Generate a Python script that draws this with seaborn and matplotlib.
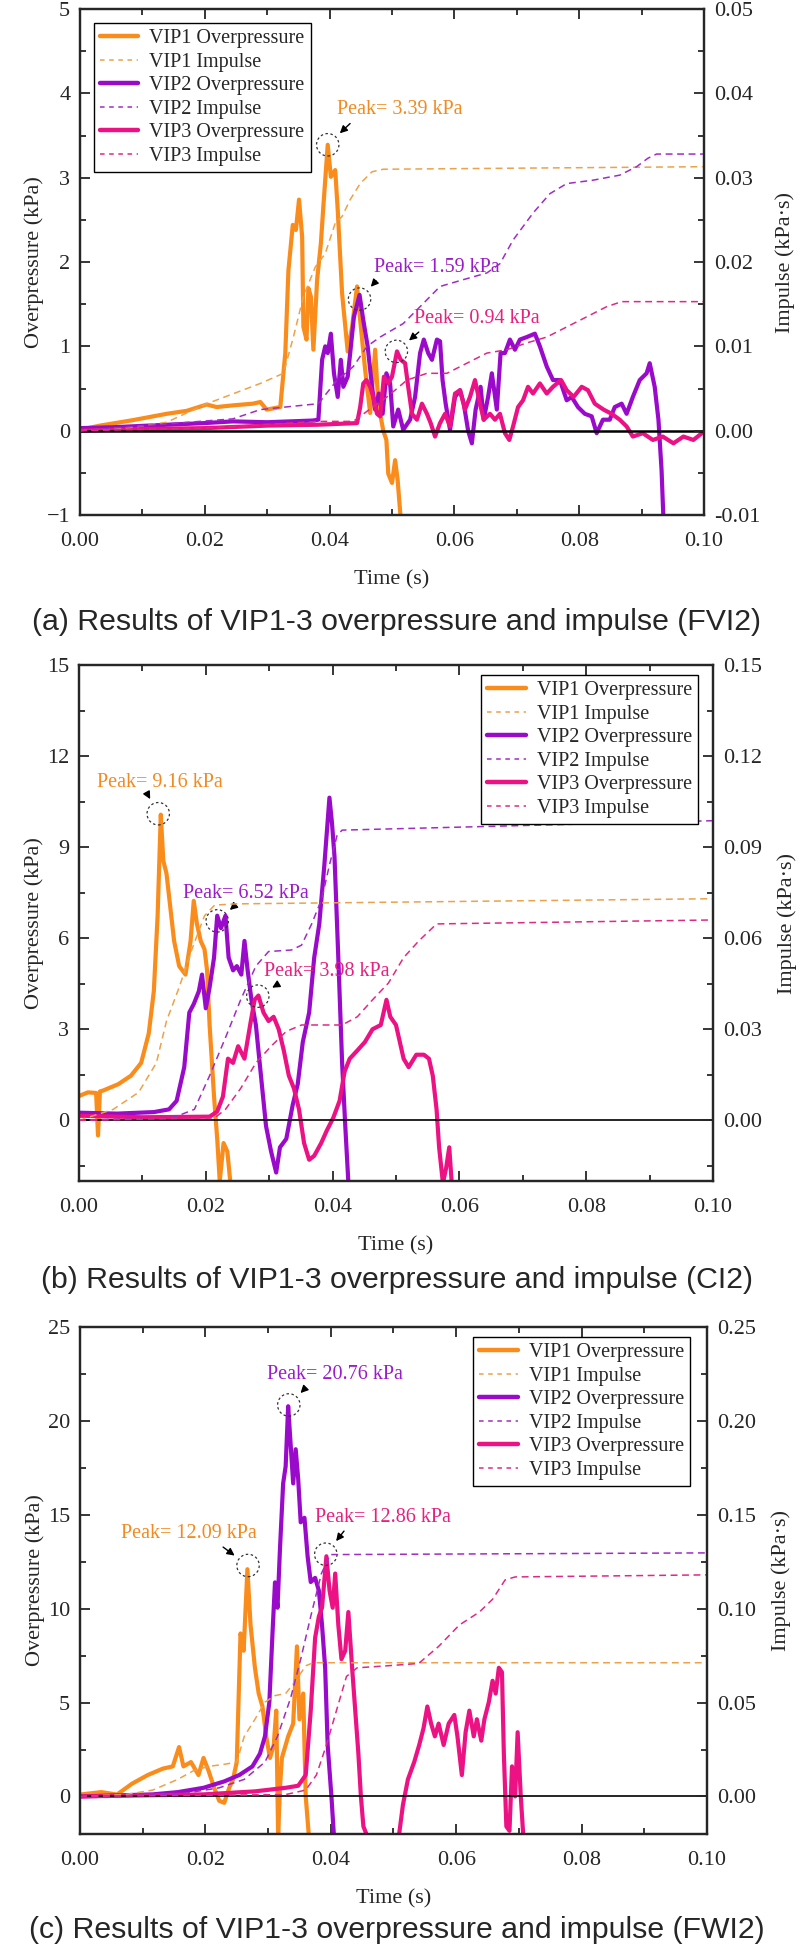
"""Overpressure and impulse at VIP1-3 for three cases (FVI2, CI2, FWI2)."""

import matplotlib

matplotlib.use("Agg")

import matplotlib.pyplot as plt
from matplotlib.lines import Line2D
from matplotlib.ticker import MultipleLocator, FormatStrFormatter
import seaborn as sns

# ---------------- data ----------------
# (a) FVI2
a_vip1_t = [0.0, 0.0032, 0.0085, 0.0139, 0.0171, 0.0203, 0.0219, 0.0245, 0.0277, 0.0289, 0.0299, 0.0321,
            0.0329, 0.0334, 0.0341, 0.0346, 0.0351, 0.0356, 0.0358, 0.0363, 0.0366, 0.037, 0.0374, 0.038,
            0.0386, 0.039, 0.0397, 0.0402, 0.0409, 0.0413, 0.042, 0.0429, 0.0436, 0.0444, 0.0449, 0.0457,
            0.0465, 0.0473, 0.0478, 0.0486, 0.0491, 0.0494, 0.05, 0.0505, 0.0509, 0.0514]
a_vip1_p = [0.01, 0.06, 0.125, 0.2, 0.235, 0.31, 0.28, 0.30, 0.32, 0.34, 0.25, 0.28,
            0.92, 1.9, 2.44, 2.38, 2.74, 2.3, 1.23, 1.08, 1.69, 1.59, 0.96, 1.79,
            2.22, 2.66, 3.39, 3.01, 3.09, 2.62, 1.63, 0.94, 1.23, 1.71, 1.31, 0.72,
            0.21, 0.96, 0.32, 0.0, -0.11, -0.51, -0.62, -0.35, -0.58, -1.05]
a_vip2_t = [0.0, 0.005, 0.0139, 0.02, 0.0245, 0.03, 0.0373, 0.0382, 0.0388, 0.0393, 0.0397, 0.0402,
            0.0407, 0.0413, 0.0418, 0.0422, 0.0429, 0.0433, 0.0439, 0.0448, 0.0454, 0.0461, 0.0468, 0.0473,
            0.0479, 0.0485, 0.0491, 0.0497, 0.0502, 0.051, 0.0518, 0.0529, 0.0537, 0.0545, 0.0551, 0.0558,
            0.0564, 0.0572, 0.0577, 0.0581, 0.0586, 0.0593, 0.0601, 0.0609, 0.0615, 0.0622, 0.0628, 0.0634,
            0.0642, 0.0647, 0.0654, 0.066, 0.0668, 0.0674, 0.0681, 0.0689, 0.0697, 0.0705, 0.0716, 0.0729,
            0.0737, 0.0748, 0.0758, 0.0769, 0.078, 0.0788, 0.0798, 0.0809, 0.082, 0.0828, 0.0838, 0.0849,
            0.0857, 0.0868, 0.0876, 0.0886, 0.0897, 0.0908, 0.0913, 0.0921, 0.0927, 0.0932, 0.0935]
a_vip2_p = [0.03, 0.04, 0.07, 0.09, 0.11, 0.1, 0.12, 0.13, 0.84, 1.0, 0.92, 1.15,
            0.68, 0.40, 0.84, 0.52, 0.64, 0.92, 1.35, 1.61, 1.31, 1.0, 0.52, 0.25,
            0.44, 0.2, 0.68, 0.56, 0.05, 0.25, 0.01, 0.13, 0.4, 0.92, 1.08, 0.92,
            0.84, 1.08, 1.06, 0.6, 0.32, 0.01, 0.4, 0.48, 0.32, 0.0, -0.15, 0.25,
            0.52, 0.13, 0.4, 0.68, 0.25, 0.92, 0.92, 1.08, 0.96, 1.08, 1.11, 1.15,
            1.0, 0.76, 0.6, 0.6, 0.36, 0.4, 0.28, 0.2, 0.17, -0.03, 0.13, 0.13,
            0.28, 0.32, 0.2, 0.4, 0.6, 0.68, 0.8, 0.52, 0.13, -0.47, -1.05]
a_vip3_t = [0.0, 0.01, 0.02, 0.03, 0.038, 0.0444, 0.0449, 0.0454, 0.0459, 0.0465, 0.047, 0.0476,
            0.0481, 0.0487, 0.0494, 0.05, 0.0508, 0.0514, 0.0521, 0.0526, 0.0532, 0.054, 0.0548, 0.0556,
            0.0562, 0.0569, 0.0577, 0.0585, 0.0593, 0.0601, 0.0609, 0.0617, 0.0625, 0.0633, 0.0641, 0.0647,
            0.0657, 0.0665, 0.0673, 0.0681, 0.0688, 0.0694, 0.0702, 0.071, 0.0718, 0.0726, 0.0737, 0.0748,
            0.0758, 0.0771, 0.078, 0.0791, 0.0804, 0.0814, 0.0825, 0.0839, 0.0852, 0.0865, 0.0876, 0.0886,
            0.0902, 0.0918, 0.0934, 0.0951, 0.0967, 0.0983, 0.1]
a_vip3_p = [0.0, 0.02, 0.03, 0.06, 0.07, 0.09, 0.28, 0.56, 0.6, 0.52, 0.4, 0.2,
            0.17, 0.64, 0.56, 0.64, 0.94, 0.84, 0.8, 0.52, 0.2, 0.13, 0.32, 0.2,
            0.09, -0.07, 0.09, 0.2, 0.05, 0.44, 0.48, 0.25, 0.4, 0.6, 0.32, 0.13,
            0.2, 0.13, 0.2, -0.03, -0.11, 0.05, 0.28, 0.36, 0.52, 0.44, 0.56, 0.44,
            0.52, 0.6, 0.48, 0.4, 0.52, 0.48, 0.32, 0.25, 0.2, 0.13, 0.05, -0.07,
            -0.03, -0.11, -0.07, -0.15, -0.07, -0.11, -0.01]
a_imp1_t = [0.0, 0.0085, 0.0139, 0.02, 0.0289, 0.0326, 0.0342, 0.0358, 0.0377, 0.0393, 0.0409, 0.042,
            0.0433, 0.0449, 0.0468, 0.0486, 0.1]
a_imp1_v = [0.0, 0.0004, 0.001, 0.0031, 0.0056, 0.0068, 0.0111, 0.0159, 0.0194, 0.021, 0.0246, 0.0254,
            0.0274, 0.0293, 0.0307, 0.031, 0.0313]
a_imp2_t = [0.0, 0.0139, 0.0245, 0.0289, 0.0382, 0.0412, 0.0438, 0.046, 0.0481, 0.0518, 0.0545, 0.0577,
            0.0614, 0.0652, 0.0673, 0.0694, 0.0726, 0.0753, 0.078, 0.0822, 0.0865, 0.0892, 0.091, 0.0924, 0.1]
a_imp2_v = [0.0, 0.0008, 0.0014, 0.0025, 0.0032, 0.006, 0.0076, 0.01, 0.0111, 0.0127, 0.0147, 0.0171,
            0.0179, 0.0187, 0.0198, 0.0226, 0.0258, 0.0281, 0.0293, 0.0297, 0.0303, 0.0313, 0.0323, 0.0328, 0.0328]
a_imp3_t = [0.0, 0.02, 0.0382, 0.0438, 0.046, 0.0492, 0.0524, 0.0556, 0.0588, 0.062, 0.0652, 0.0684,
            0.0716, 0.0748, 0.078, 0.0812, 0.0844, 0.0868, 0.1]
a_imp3_v = [0.0, 0.0003, 0.0011, 0.0011, 0.0023, 0.004, 0.006, 0.0068, 0.0068, 0.008, 0.0092, 0.0096,
            0.0104, 0.0111, 0.0123, 0.0135, 0.0147, 0.0153, 0.0153]

# (b) CI2
b_vip1_t = [0.0, 0.0014, 0.0027, 0.003, 0.0033, 0.0038, 0.0062, 0.0082, 0.0098, 0.011, 0.0118, 0.0124,
            0.0129, 0.0133, 0.0138, 0.0144, 0.015, 0.0158, 0.0168, 0.0176, 0.0181, 0.0186, 0.0192, 0.0198,
            0.0202, 0.0206, 0.0213, 0.0218, 0.0222, 0.0228, 0.0234, 0.0239]
b_vip1_p = [0.8, 0.92, 0.9, -0.5, 0.95, 0.98, 1.19, 1.47, 1.89, 2.86, 4.25, 6.74,
            10.07, 8.55, 8.13, 7.02, 5.91, 5.08, 4.8, 5.91, 7.23, 6.47, 5.91, 5.63,
            4.94, 3.14, 0.78, -0.61, -2.0, -0.75, -1.03, -2.1]
b_vip2_t = [0.0, 0.006, 0.0118, 0.0142, 0.0154, 0.0166, 0.0174, 0.0181, 0.0189, 0.0194, 0.02, 0.0206,
            0.0213, 0.0218, 0.0224, 0.0231, 0.0236, 0.0243, 0.0249, 0.0256, 0.0261, 0.0266, 0.0272, 0.0279,
            0.0287, 0.0295, 0.0303, 0.0311, 0.0317, 0.0327, 0.0337, 0.0345, 0.0353, 0.0363, 0.0371, 0.0379,
            0.0387, 0.0395, 0.0399, 0.0403, 0.0409, 0.0415, 0.042, 0.0425]
b_vip2_p = [0.25, 0.22, 0.27, 0.36, 0.64, 1.75, 3.55, 3.83, 4.25, 4.8, 3.69, 4.38,
            5.36, 6.74, 6.33, 6.74, 5.36, 4.94, 5.08, 4.8, 5.91, 4.94, 3.97, 3.14,
            1.47, -0.19, -1.03, -1.72, -0.89, -0.61, 0.5, 1.19, 2.58, 3.55, 5.36, 6.47,
            8.41, 10.63, 9.8, 8.69, 5.36, 1.89, -0.19, -2.1]
b_vip3_t = [0.0, 0.01, 0.0206, 0.0218, 0.0227, 0.0235, 0.0243, 0.0251, 0.0261, 0.0271, 0.0277, 0.0283,
            0.0291, 0.0299, 0.0307, 0.0315, 0.0323, 0.0331, 0.0339, 0.0347, 0.0355, 0.0363, 0.0371, 0.0382,
            0.0391, 0.0401, 0.0411, 0.0419, 0.0427, 0.0439, 0.0451, 0.0463, 0.0476, 0.0485, 0.0491, 0.05,
            0.0512, 0.052, 0.0532, 0.0544, 0.0552, 0.0558, 0.0564, 0.0568, 0.0574, 0.0579, 0.0584, 0.0588]
b_vip3_p = [0.15, 0.1, 0.12, 0.29, 0.78, 2.03, 1.89, 2.44, 2.03, 3.27, 3.97, 4.11,
            3.55, 3.27, 3.41, 3.0, 2.3, 1.47, 1.05, 0.36, -0.75, -1.3, -1.17, -0.75,
            -0.33, 0.08, 0.64, 1.61, 2.03, 2.3, 2.58, 3.0, 3.14, 3.97, 3.41, 3.14,
            2.03, 1.75, 2.16, 2.16, 2.03, 1.47, 0.36, -0.89, -2.07, -1.58, -0.89, -2.1]
b_imp1_t = [0.0, 0.0054, 0.0094, 0.0122, 0.0138, 0.0158, 0.0178, 0.0198, 0.0214, 0.0247, 0.1]
b_imp1_v = [0.0, 0.0036, 0.0092, 0.0189, 0.0327, 0.0438, 0.0563, 0.0674, 0.0709, 0.0713, 0.073]
b_imp2_t = [0.0, 0.015, 0.0182, 0.0206, 0.0231, 0.0255, 0.0279, 0.0299, 0.0335, 0.0351, 0.0367, 0.0383,
            0.0395, 0.0407, 0.0415, 0.1]
b_imp2_v = [0.0, 0.001, 0.0036, 0.0147, 0.0272, 0.0397, 0.0508, 0.0556, 0.0561, 0.0577, 0.0647, 0.073,
            0.0841, 0.0938, 0.0956, 0.0987]
b_imp3_t = [0.0, 0.0214, 0.0231, 0.0255, 0.0279, 0.0303, 0.0327, 0.0351, 0.0415, 0.0439, 0.0463, 0.0488,
            0.0512, 0.0536, 0.0564, 0.1]
b_imp3_v = [0.0, 0.0008, 0.0036, 0.0105, 0.0189, 0.0244, 0.0293, 0.0314, 0.0314, 0.0341, 0.0397, 0.0452,
            0.0536, 0.0591, 0.0647, 0.066]

# (c) FWI2
c_vip1_t = [0.0, 0.0034, 0.0059, 0.0083, 0.0108, 0.0132, 0.0148, 0.0158, 0.0165, 0.0177, 0.0189, 0.0197,
            0.0205, 0.0214, 0.0222, 0.023, 0.0238, 0.0244, 0.025, 0.0256, 0.0261, 0.0267, 0.0272, 0.0279,
            0.0285, 0.0291, 0.0297, 0.0303, 0.0309, 0.0313, 0.0316, 0.0319, 0.0322, 0.0332, 0.034, 0.0346,
            0.035, 0.0356, 0.036, 0.0365]
c_vip1_p = [0.1, 0.23, 0.1, 0.68, 1.14, 1.48, 1.6, 2.63, 1.6, 1.83, 1.14, 2.05,
            1.37, 0.46, -0.23, -0.34, 0.46, 0.91, 1.83, 8.68, 7.76, 12.1, 9.13, 6.85,
            5.48, 4.79, 3.2, 2.05, 2.74, 4.57, -2.1, 0.5, 2.05, 3.2, 3.88, 7.99,
            4.11, 5.48, 0.0, -2.1]
c_vip2_t = [0.0, 0.0116, 0.0156, 0.0197, 0.023, 0.0254, 0.0275, 0.0287, 0.0295, 0.0302, 0.0307, 0.0311,
            0.0315, 0.0319, 0.0324, 0.0328, 0.0332, 0.0336, 0.034, 0.0344, 0.0348, 0.0352, 0.0358, 0.0363,
            0.0368, 0.0375, 0.0381, 0.0386, 0.0391, 0.0395, 0.0401, 0.0405]
c_vip2_p = [0.0, 0.11, 0.23, 0.46, 0.8, 1.14, 1.6, 2.28, 3.2, 5.02, 8.68, 11.4,
            10.05, 13.24, 16.67, 17.58, 20.78, 18.72, 16.67, 18.49, 16.9, 14.6, 14.84, 12.79,
            11.42, 11.64, 10.96, 9.13, 6.85, 2.74, 0.0, -2.1]
c_vip3_t = [0.0, 0.0197, 0.0279, 0.0328, 0.0348, 0.036, 0.0368, 0.0375, 0.0381, 0.0386, 0.0393, 0.0398,
            0.0403, 0.0407, 0.0412, 0.0417, 0.0423, 0.0428, 0.0434, 0.0439, 0.0444, 0.0448, 0.0452, 0.0458,
            0.048, 0.0505, 0.0509, 0.0515, 0.0523, 0.0533, 0.0541, 0.0548, 0.0554, 0.056, 0.0566, 0.0572,
            0.058, 0.0588, 0.0597, 0.0602, 0.0609, 0.0615, 0.0621, 0.0628, 0.0633, 0.064, 0.0645, 0.0652,
            0.0658, 0.0663, 0.0668, 0.0673, 0.0676, 0.068, 0.0685, 0.0689, 0.0694, 0.0698, 0.0703, 0.0707]
c_vip3_p = [0.0, 0.11, 0.27, 0.46, 0.57, 1.14, 4.57, 8.45, 9.59, 10.05, 12.79, 10.96,
            10.05, 11.87, 9.13, 7.31, 7.76, 9.82, 6.85, 4.57, 2.28, 0.0, -1.6, -2.1,
            -2.6, -2.6, -2.0, -0.46, 0.91, 1.83, 2.74, 3.65, 4.79, 3.88, 3.2, 3.88,
            2.74, 3.88, 4.34, 3.2, 1.14, 3.42, 4.57, 3.2, 4.11, 2.97, 4.11, 5.02,
            6.16, 5.48, 6.85, 6.62, 2.28, -1.6, -1.83, 1.6, 0.0, 3.42, 0.0, -2.1]
c_imp1_t = [0.0, 0.0075, 0.0116, 0.0156, 0.0181, 0.0205, 0.023, 0.025, 0.0262, 0.0279, 0.0295, 0.0311,
            0.0328, 0.0344, 0.036, 0.0372, 0.1]
c_imp1_v = [0.0, 0.0011, 0.0034, 0.0091, 0.0137, 0.016, 0.0171, 0.0183, 0.032, 0.0411, 0.0502, 0.0537,
            0.0548, 0.0616, 0.0696, 0.0712, 0.0712]
c_imp2_t = [0.0, 0.0156, 0.0222, 0.0262, 0.0295, 0.0315, 0.0336, 0.0352, 0.0368, 0.0385, 0.0399, 0.1]
c_imp2_v = [0.0, 0.0011, 0.0046, 0.0091, 0.0183, 0.032, 0.0525, 0.0731, 0.0959, 0.1187, 0.1288, 0.1297]
c_imp3_t = [0.0, 0.0328, 0.036, 0.0377, 0.0393, 0.0409, 0.0425, 0.0442, 0.0491, 0.054, 0.0572, 0.0605,
            0.0637, 0.0658, 0.0678, 0.0694, 0.1]
c_imp3_v = [0.0, 0.001, 0.0034, 0.0114, 0.0274, 0.0457, 0.0639, 0.0685, 0.0696, 0.0708, 0.0799, 0.0913,
            0.0982, 0.105, 0.1153, 0.1169, 0.118]

# peaks: circle position and the value written in the label
a_peak_t = [0.0397, 0.0448, 0.0507]
a_peak_y = [3.39, 1.56, 0.94]
a_peak_lab = [3.39, 1.59, 0.94]
b_peak_t = [0.0125, 0.0218, 0.0282]
b_peak_y = [10.1, 6.57, 4.09]
b_peak_lab = [9.16, 6.52, 3.98]
c_peak_t = [0.0268, 0.0333, 0.0392]
c_peak_y = [12.3, 20.85, 12.9]
c_peak_lab = [12.09, 20.76, 12.86]

captions = [
    "(a) Results of VIP1-3 overpressure and impulse (FVI2)",
    "(b) Results of VIP1-3 overpressure and impulse (CI2)",
    "(c) Results of VIP1-3 overpressure and impulse (FWI2)",
]
names = ["VIP1", "VIP2", "VIP3"]

# ---------------- style ----------------
OVER_COLORS = ["#FA8C1C", "#9A0ACB", "#EC1283"]
IMP_COLORS = ["#EBA24A", "#A02CC4", "#DC2A86"]
TEXT_COLORS = ["#F28A20", "#9A1CCB", "#E8207F"]

sns.set_style("ticks")
plt.rcParams["font.family"] = ["Liberation Serif", "DejaVu Serif"]

W, H = 800, 1955
fig = plt.figure(figsize=(W / 100, H / 100), dpi=100)


def rect(left, right, top, bottom):
    return [left / W, 1 - bottom / H, (right - left) / W, (bottom - top) / H]


def draw_panel(box, over, imp, peaks, ylim, ymaj, leg_anchor, leg_loc,
               text_off, relx, zero_lw):
    ax = fig.add_axes(box)
    ax2 = ax.twinx()

    for (t, p), c in zip(over, OVER_COLORS):
        sns.lineplot(x=t, y=p, ax=ax, color=c, lw=3.0, estimator=None, sort=False)
    ax.axhline(0, color="black", lw=zero_lw, zorder=5)
    for (t, v), c in zip(imp, IMP_COLORS):
        sns.lineplot(x=t, y=v, ax=ax2, color=c, lw=1.1, estimator=None, sort=False,
                     linestyle=(0, (4.5, 3)))

    ax.set_xlim(0, 0.1)
    ax.set_ylim(*ylim)
    ax2.set_ylim(ylim[0] / 100, ylim[1] / 100)
    ax.xaxis.set_major_locator(MultipleLocator(0.02))
    ax.xaxis.set_minor_locator(MultipleLocator(0.01))
    ax.xaxis.set_major_formatter(FormatStrFormatter("%.2f"))
    ax.yaxis.set_major_locator(MultipleLocator(ymaj))
    ax.yaxis.set_minor_locator(MultipleLocator(ymaj / 2))
    ax2.yaxis.set_major_locator(MultipleLocator(ymaj / 100))
    ax2.yaxis.set_minor_locator(MultipleLocator(ymaj / 200))
    ax2.yaxis.set_major_formatter(FormatStrFormatter("%.2f"))

    ax.tick_params(which="both", direction="in", top=True, right=False,
                   labelsize=16, width=1.3, pad=7)
    ax.tick_params(axis="x", which="both", pad=12)
    ax.tick_params(which="major", length=7)
    ax.tick_params(which="minor", length=4)
    ax2.tick_params(which="both", direction="in", labelsize=16, width=1.3, pad=7)
    ax2.tick_params(which="major", length=7)
    ax2.tick_params(which="minor", length=4)
    for a in (ax, ax2):
        for s in a.spines.values():
            s.set_linewidth(1.6)
            s.set_visible(True)

    ax.set_xlabel("Time (s)", fontsize=16, labelpad=14)
    ax.set_ylabel("Overpressure (kPa)", fontsize=16, labelpad=2)
    ax2.set_ylabel("Impulse (kPa·s)", fontsize=16, labelpad=11)

    # peak markers and labels
    pt, py, plab = peaks
    ax.scatter(pt, py, s=260, facecolors="none", edgecolors="#333333",
               linewidths=0.9, linestyles=(0, (2, 2)), zorder=6)
    for i in range(3):
        ax.annotate(f"Peak= {plab[i]:.2f} kPa", xy=(pt[i], py[i]), xytext=text_off[i],
                    textcoords="offset pixels", ha="center", va="center", fontsize=14.5,
                    color=TEXT_COLORS[i], zorder=7,
                    arrowprops=dict(arrowstyle="-|>", color="black", lw=1.0,
                                    mutation_scale=11, shrinkA=1, shrinkB=12,
                                    relpos=(relx[i], 0.0)))

    for a in (ax, ax2):
        if a.get_legend() is not None:
            a.get_legend().remove()

    handles = []
    for i in range(3):
        handles.append(Line2D([], [], color=OVER_COLORS[i], lw=3.2,
                              label=f"{names[i]} Overpressure"))
        handles.append(Line2D([], [], color=IMP_COLORS[i], lw=1.1, linestyle=(0, (3, 3)),
                              label=f"{names[i]} Impulse"))
    leg = ax2.legend(handles=handles, loc=leg_loc, bbox_to_anchor=leg_anchor,
                     fontsize=14.5, frameon=True, fancybox=False, framealpha=1,
                     edgecolor="black", borderaxespad=0, handlelength=1.9,
                     handletextpad=0.55, labelspacing=0.22, borderpad=0.3)
    leg.get_frame().set_linewidth(1.0)
    return ax


draw_panel(rect(80, 704, 9, 515),
           [(a_vip1_t, a_vip1_p), (a_vip2_t, a_vip2_p), (a_vip3_t, a_vip3_p)],
           [(a_imp1_t, a_imp1_v), (a_imp2_t, a_imp2_v), (a_imp3_t, a_imp3_v)],
           (a_peak_t, a_peak_y, a_peak_lab), (-1, 5), 1,
           (14 / 624, 1 - 14 / 506), "upper left",
           [(72, 35), (77, 32), (80, 33)], [0.14, 0.05, 0.08], 1.8)

draw_panel(rect(79, 713, 665, 1181),
           [(b_vip1_t, b_vip1_p), (b_vip2_t, b_vip2_p), (b_vip3_t, b_vip3_p)],
           [(b_imp1_t, b_imp1_v), (b_imp2_t, b_imp2_v), (b_imp3_t, b_imp3_v)],
           (b_peak_t, b_peak_y, b_peak_lab), (-2, 15), 3,
           (1 - 15 / 634, 1 - 10 / 516), "upper right",
           [(2, 31), (29, 27), (69, 25)], [0.39, 0.43, 0.16], 1.2)

draw_panel(rect(80, 707, 1327, 1834),
           [(c_vip1_t, c_vip1_p), (c_vip2_t, c_vip2_p), (c_vip3_t, c_vip3_p)],
           [(c_imp1_t, c_imp1_v), (c_imp2_t, c_imp2_v), (c_imp3_t, c_imp3_v)],
           (c_peak_t, c_peak_y, c_peak_lab), (-2, 25), 5,
           (1 - 17 / 627, 1 - 10 / 507), "upper right",
           [(-59, 32), (46, 30), (57, 37)], [0.71, 0.31, 0.24], 1.2)

for cap, y in zip(captions, [622, 1280, 1930]):
    fig.text(397 / W, 1 - y / H, cap, ha="center", va="center", fontsize=21.8,
             family=["Liberation Sans", "DejaVu Sans"])

fig.savefig("out.png", dpi=100)
